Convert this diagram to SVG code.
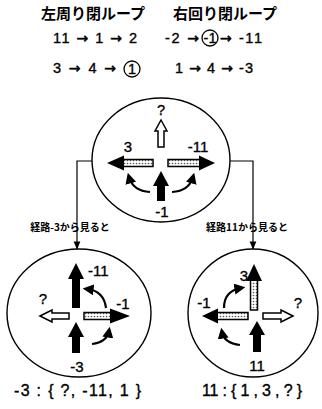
<svg xmlns="http://www.w3.org/2000/svg" width="322" height="409" viewBox="0 0 322 409">
<style>
.t{font-family:"Liberation Sans","DejaVu Sans",sans-serif;fill:#000;stroke:#000;stroke-width:0.35}
.n{font-size:14.5px}
.ar{font-family:"DejaVu Sans",sans-serif;font-size:14px;stroke-width:0.5}
.lbl{font-size:15px}
.big{font-size:16px}
.jp{font-family:"Noto Sans CJK JP","Noto Sans CJK SC",sans-serif;font-weight:bold;fill:#000}
.ring{fill:none;stroke:#000;stroke-width:1.4}
.conn{fill:none;stroke:#000;stroke-width:1.2}
.blk{fill:#000}
.hol{fill:#fff;stroke:#000;stroke-width:1.5;stroke-linejoin:miter}
.stp{fill:url(#stip);stroke:#000;stroke-width:1.5}
.crv{fill:none;stroke:#000;stroke-width:2.2}
.rc{fill:none;stroke:#000;stroke-width:1.3}
</style>
<defs>
<pattern id="stip" width="3" height="3" patternUnits="userSpaceOnUse">
<rect width="3" height="3" fill="#fff"/>
<circle cx="1.5" cy="1.5" r="0.8" fill="#555"/>
</pattern>
<marker id="ch" viewBox="0 0 10 10" refX="6" refY="5" markerWidth="5" markerHeight="5" orient="auto" markerUnits="strokeWidth">
<path d="M0,0 L10,5 L0,10 z" fill="#000"/>
</marker>
<marker id="ah" viewBox="0 0 10 10" refX="9" refY="5" markerWidth="7" markerHeight="7" orient="auto" markerUnits="strokeWidth">
<path d="M0,1 L10,5 L0,9 z" fill="#000"/>
</marker>
</defs>

<g id="header">
<text class="jp" x="93" y="19" font-size="15" text-anchor="middle">左周り閉ループ</text>
<text class="jp" x="225" y="19" font-size="15" text-anchor="middle">右回り閉ループ</text>
<text class="t n" x="53" y="43" textLength="84" lengthAdjust="spacing">11 <tspan class="ar">→</tspan> 1 <tspan class="ar">→</tspan> 2</text>
<text class="t n" x="165" y="43" textLength="34" lengthAdjust="spacing">-2 <tspan class="ar">→</tspan></text>
<circle class="rc" cx="210" cy="38" r="8"/>
<text class="t n" x="210" y="43" text-anchor="middle">-1</text>
<text class="t n" x="220" y="43" textLength="42" lengthAdjust="spacing"><tspan class="ar">→</tspan> -11</text>
<text class="t n" x="53" y="73" textLength="63" lengthAdjust="spacing">3 <tspan class="ar">→</tspan> 4 <tspan class="ar">→</tspan></text>
<circle class="rc" cx="132" cy="69" r="8"/>
<text class="t n" x="132" y="74" text-anchor="middle">1</text>
<text class="t n" x="175" y="73" textLength="78" lengthAdjust="spacing">1 <tspan class="ar">→</tspan> 4 <tspan class="ar">→</tspan> -3</text>
</g>

<g id="connectors">
<polyline class="conn" points="92,161 77,161 77,249" marker-end="url(#ah)"/>
<polyline class="conn" points="230,161 253,161 253,249" marker-end="url(#ah)"/>
<text class="jp" x="70" y="231" font-size="10" text-anchor="middle">経路-3から見ると</text>
<text class="jp" x="247" y="231" font-size="10" text-anchor="middle">経路11から見ると</text>
</g>

<g id="node-top">
<ellipse class="ring" cx="161" cy="160" rx="69" ry="62"/>
<text class="t n" x="161" y="115" text-anchor="middle">?</text>
<polygon class="hol" points="161,120 167,131 164,131 164,147 158,147 158,131 155,131"/>
<text class="t lbl" x="128" y="152" text-anchor="middle">3</text>
<text class="t lbl" x="198" y="152" text-anchor="middle">-11</text>
<rect class="stp" x="123" y="159.5" width="30" height="7"/>
<polygon class="blk" points="107,163 124,155.5 124,170.5"/>
<rect class="stp" x="168" y="159.5" width="32" height="7"/>
<polygon class="blk" points="215,163 199,155.5 199,170.5"/>
<polygon class="blk" points="161,171 169,186 165,186 165,201 157,201 157,186 153,186"/>
<path class="crv" d="M150,192 Q133,191 129,177" marker-end="url(#ch)"/>
<path class="crv" d="M172,192 Q189,191 193,177" marker-end="url(#ch)"/>
<text class="t lbl" x="162" y="217" text-anchor="middle">-1</text>
</g>

<g id="node-left">
<ellipse class="ring" cx="79" cy="313" rx="72" ry="64"/>
<polygon class="blk" points="76,263 84,279 80,279 80,308 72,308 72,279 68,279"/>
<text class="t lbl" x="88" y="276">-11</text>
<path class="crv" d="M106,308 Q104,291 87,289" marker-end="url(#ch)"/>
<text class="t lbl" x="43" y="304" text-anchor="middle">?</text>
<polygon class="hol" points="40,316 52,310 52,313 69,313 69,319 52,319 52,322"/>
<rect class="stp" x="84" y="312.5" width="27" height="7"/>
<polygon class="blk" points="130,316 110,308.5 110,323.5"/>
<text class="t lbl" x="123" y="309" text-anchor="middle">-1</text>
<polygon class="blk" points="76,322 84,337 80,337 80,353 72,353 72,337 68,337"/>
<path class="crv" d="M92,344 Q107,342 109,331" marker-end="url(#ch)"/>
<text class="t lbl" x="77" y="372" text-anchor="middle">-3</text>
<text class="t big" x="14" y="396" textLength="127" lengthAdjust="spacing">-3 : { ?, -11, 1 }</text>
</g>

<g id="node-right">
<ellipse class="ring" cx="253" cy="313" rx="65" ry="64"/>
<rect class="stp" x="250.5" y="280" width="7" height="30"/>
<polygon class="blk" points="254,264 262,281 246,281"/>
<text class="t lbl" x="248" y="281" text-anchor="end">3</text>
<path class="crv" d="M224,308 Q224,291 241,288" marker-end="url(#ch)"/>
<text class="t lbl" x="204" y="308" text-anchor="middle">-1</text>
<rect class="stp" x="217" y="312.5" width="31" height="7"/>
<polygon class="blk" points="202,316 218,308.5 218,323.5"/>
<polygon class="hol" points="293,316 281,310 281,313 263,313 263,319 281,319 281,322"/>
<text class="t lbl" x="298" y="308" text-anchor="middle">?</text>
<polygon class="blk" points="257,321 265,335 261,335 261,352 253,352 253,335 249,335"/>
<path class="crv" d="M240,345 Q224,343 222,332" marker-end="url(#ch)"/>
<text class="t lbl" x="257" y="371" text-anchor="middle">11</text>
<text class="t big" x="202" y="396" textLength="100" lengthAdjust="spacing">11 : { 1 , 3 , ? }</text>
</g>
</svg>
